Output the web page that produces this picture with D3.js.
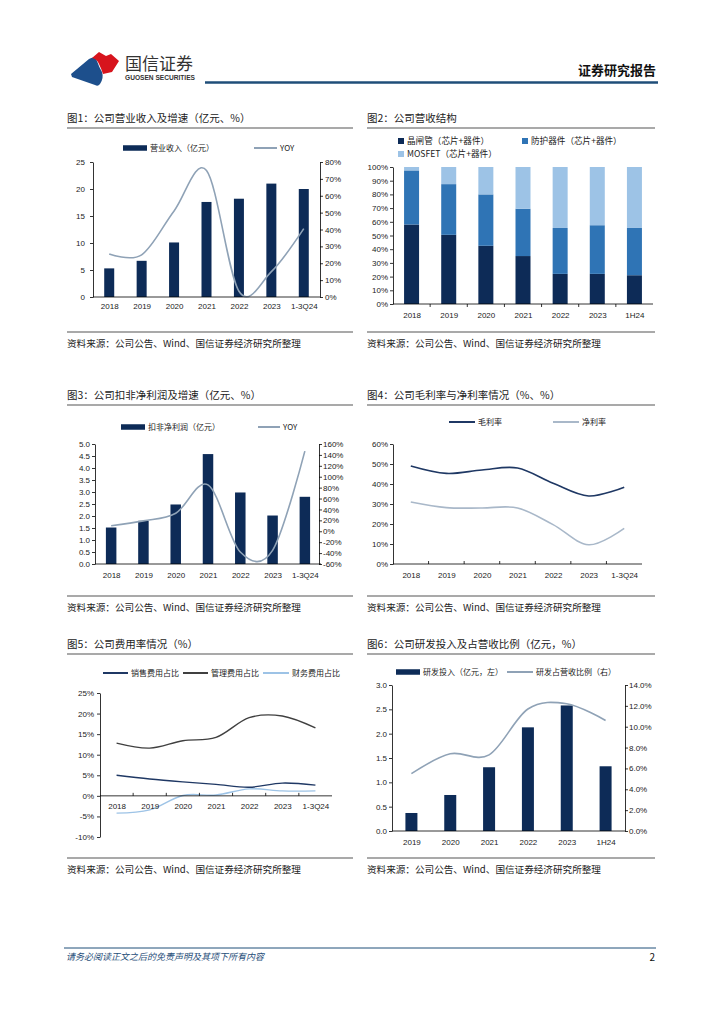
<!DOCTYPE html>
<html lang="zh-CN">
<head>
<meta charset="UTF-8">
<title>国信证券 证券研究报告 第2页</title>
<script src="https://d3js.org/d3.v7.min.js"></script>
<style>
  body { margin: 0; background: #fff; }
  svg { display: block; font-family: "Noto Sans CJK SC", "Noto Sans", sans-serif; }
  .axis path, .axis line { stroke: #000; stroke-width: 0.8; }
  .axis text { font-size: 8px; fill: #222; font-family: "Liberation Sans", Arial, sans-serif; }
</style>
</head>
<body>
<svg id="page" width="724" height="1024"></svg>
<script>
// ---- data ----
const years7 = ['2018', '2019', '2020', '2021', '2022', '2023', '1-3Q24'];
const years7h = ['2018', '2019', '2020', '2021', '2022', '2023', '1H24'];
const years6 = ['2019', '2020', '2021', '2022', '2023', '1H24'];

// 图1
const revenue = [5.3, 6.7, 10.1, 17.6, 18.2, 21.0, 20.0];
const revenueYoy = [25.5, 25, 51, 75, 3.4, 15, 40.5];

// 图2 (%)
const shareThyristor = [58, 50.5, 42.5, 35, 22, 22, 21];
const shareProtect = [39.5, 37, 37.5, 34.5, 33.5, 35.5, 34.5];
const shareMosfet = [2.5, 12.5, 20, 30.5, 44.5, 42.5, 44.5];

// 图3
const deductedProfit = [1.52, 1.8, 2.48, 4.58, 2.98, 2.02, 2.8];
const profitYoy = [10, 19, 33, 85, -38, -35, 147];

// 图4
const grossMargin = [49, 45.3, 47, 48, 40.4, 34, 38.4];
const netMargin = [31, 28.2, 28, 28, 19.7, 9.6, 17.8];

// 图5
const sellingRate = [5.0, 4.1, 3.4, 2.8, 2.1, 3.1, 2.6];
const adminRate = [12.8, 11.6, 13.4, 14.2, 19.0, 19.4, 16.5];
const financeRate = [-4.2, -3.4, 0.1, 0.2, 1.7, 1.2, 1.2];

// 图6
const rdSpend = [0.37, 0.74, 1.31, 2.13, 2.58, 1.33];
const rdRatio = [5.5, 7.4, 7.3, 11.7, 12.2, 10.6];

const NAVY = '#0d2b57';
const MID = '#2f74b5';
const LIGHT = '#9dc3e6';
const GREYBLUE = '#8fa2b6';

const svg = d3.select('#page');

// ---- page header / footer ----
const logo = svg.append('g');
logo.append('path')
    .attr('d', 'M71,74 L89,59 Q95,55 97,61 Q99,67 102,72 Q104,78 100,84 Q98,87 95,85 L72,77 Z')
    .attr('fill', '#1d4f8c');
logo.append('path')
    .attr('d', 'M92,58 L99,52 L106,56 L111,54 L119,61 L112,72 L103,74 Q101,68 99,64 Q97,59 92,58 Z')
    .attr('fill', '#d7141d');
svg.append('text').attr('x', 125).attr('y', 70).text('国信证券')
    .attr('font-size', 17).attr('fill', '#333');
svg.append('text').attr('x', 125).attr('y', 80).text('GUOSEN SECURITIES')
    .attr('font-size', 6.6).attr('font-weight', 'bold').attr('fill', '#333')
    .attr('font-family', 'Liberation Sans, Arial, sans-serif');
svg.append('text').attr('x', 656).attr('y', 75).attr('text-anchor', 'end').text('证券研究报告')
    .attr('font-size', 13).attr('font-weight', 'bold').attr('fill', '#111');
svg.append('line').attr('x1', 205).attr('x2', 658).attr('y1', 82.5).attr('y2', 82.5)
    .attr('stroke', '#1f4e79').attr('stroke-width', 2.5);

svg.append('line').attr('x1', 64).attr('x2', 656).attr('y1', 948).attr('y2', 948)
    .attr('stroke', '#1f4e79').attr('stroke-width', 1);
svg.append('text').attr('x', 66).attr('y', 960).text('请务必阅读正文之后的免责声明及其项下所有内容')
    .attr('font-size', 9).attr('font-style', 'italic').attr('fill', '#1f4e79');
svg.append('text').attr('x', 655).attr('y', 961).attr('text-anchor', 'end').text('2')
    .attr('font-size', 10).attr('fill', '#111');

// ---- helpers ----
function panel(x0, x1, yTitle, title, ySource) {
    svg.append('text').attr('x', x0).attr('y', yTitle + 4).text(title)
        .attr('font-size', 10.5).attr('fill', '#222');
    svg.append('line').attr('x1', x0).attr('x2', x1).attr('y1', yTitle + 10).attr('y2', yTitle + 10)
        .attr('stroke', '#8c8c8c').attr('stroke-width', 1.5);
    svg.append('line').attr('x1', x0).attr('x2', x1).attr('y1', ySource - 11).attr('y2', ySource - 11)
        .attr('stroke', '#8c8c8c').attr('stroke-width', 1.5);
    svg.append('text').attr('x', x0).attr('y', ySource + 4).text('资料来源：公司公告、Wind、国信证券经济研究所整理')
        .attr('font-size', 9.6).attr('fill', '#222');
}

function legendRect(x, y, w, h, color, label, fs) {
    svg.append('rect').attr('x', x).attr('y', y - h / 2).attr('width', w).attr('height', h).attr('fill', color);
    svg.append('text').attr('x', x + w + 3).attr('y', y + 3).text(label).attr('font-size', fs || 8).attr('fill', '#222');
}

function legendLine(x, y, w, color, label) {
    svg.append('line').attr('x1', x).attr('x2', x + w).attr('y1', y).attr('y2', y)
        .attr('stroke', color).attr('stroke-width', 2);
    svg.append('text').attr('x', x + w + 3).attr('y', y + 3).text(label).attr('font-size', 8).attr('fill', '#222');
}

function leftAxis(scale, x, ticks, fmt, pad) {
    svg.append('g').attr('class', 'axis').attr('transform', `translate(${x},0)`)
        .call(d3.axisLeft(scale).tickValues(ticks).tickFormat(fmt).tickSize(3).tickSizeOuter(0).tickPadding(pad));
}

function rightAxis(scale, x, ticks, fmt, pad) {
    svg.append('g').attr('class', 'axis').attr('transform', `translate(${x},0)`)
        .call(d3.axisRight(scale).tickValues(ticks).tickFormat(fmt).tickSize(3).tickSizeOuter(0).tickPadding(pad));
}

function bottomAxis(scale, y, pad) {
    const g = svg.append('g').attr('class', 'axis').attr('transform', `translate(0,${y})`)
        .call(d3.axisBottom(scale).tickSize(0).tickPadding(pad));
    g.select('.domain').attr('d', `M${scale.range()[0]},0H${scale.range()[1]}`);
    return g;
}

function boundaryTicks(scale, y, dir) {
    const cats = scale.domain().slice(1);
    svg.append('g').selectAll('line').data(cats).join('line')
        .attr('x1', d => scale(d) - scale.step() / 2).attr('x2', d => scale(d) - scale.step() / 2)
        .attr('y1', y).attr('y2', y + dir * 3).attr('stroke', '#000').attr('stroke-width', 0.8);
}

function pctFmt(d) { return d + '%'; }

function drawLine(x, y, cats, values, color, width) {
    svg.append('path')
        .datum(values)
        .attr('fill', 'none').attr('stroke', color).attr('stroke-width', width)
        .attr('d', d3.line().x((d, i) => x(cats[i])).y(d => y(d)).curve(d3.curveCardinal));
}

// ---- 图1 ----
(function () {
    panel(67, 353, 118, '图1：公司营业收入及增速（亿元、%）', 343);
    legendRect(123, 148, 24, 5.5, NAVY, '营业收入（亿元）');
    legendLine(254, 148, 23, GREYBLUE, 'YOY');
    const x = d3.scalePoint().domain(years7).range([93, 320]).padding(0.5);
    const yL = d3.scaleLinear().domain([0, 25]).range([297, 162]);
    const yR = d3.scaleLinear().domain([0, 80]).range([297, 162]);
    const bw = 10;
    svg.append('g').selectAll('rect').data(revenue).join('rect')
        .attr('x', (d, i) => x(years7[i]) - bw / 2).attr('width', bw)
        .attr('y', d => yL(d)).attr('height', d => yL(0) - yL(d)).attr('fill', NAVY);
    drawLine(x, yR, years7, revenueYoy, GREYBLUE, 1.6);
    leftAxis(yL, 93, d3.range(0, 26, 5), d3.format('d'), 5);
    rightAxis(yR, 320, d3.range(0, 81, 10), pctFmt, 2);
    bottomAxis(x, 297, 6);
})();

// ---- 图2 ----
(function () {
    panel(367, 655, 118, '图2：公司营收结构', 343);
    legendRect(398, 141, 6, 6, NAVY, '晶闸管（芯片+器件）', 8.6);
    legendRect(522, 141, 6, 6, MID, '防护器件（芯片+器件）', 8.6);
    legendRect(398, 154, 6, 6, LIGHT, 'MOSFET（芯片+器件）', 8.6);
    const x = d3.scalePoint().domain(years7h).range([393, 653]).padding(0.5);
    const y = d3.scaleLinear().domain([0, 100]).range([304, 167]);
    const rows = years7h.map((c, i) => ({ cat: c, a: shareThyristor[i], b: shareProtect[i], c: shareMosfet[i] }));
    const series = d3.stack().keys(['a', 'b', 'c'])(rows);
    const colors = [NAVY, MID, LIGHT];
    const bw = 15;
    svg.append('g').selectAll('g').data(series).join('g').attr('fill', (d, i) => colors[i])
        .selectAll('rect').data(d => d).join('rect')
        .attr('x', d => x(d.data.cat) - bw / 2).attr('width', bw)
        .attr('y', d => y(d[1])).attr('height', d => y(d[0]) - y(d[1]));
    leftAxis(y, 393, d3.range(0, 101, 10), pctFmt, 2);
    bottomAxis(x, 304, 8);
    boundaryTicks(x, 304, 1);
})();

// ---- 图3 ----
(function () {
    panel(67, 353, 395, '图3：公司扣非净利润及增速（亿元、%）', 607);
    legendRect(121, 427, 24, 5.5, NAVY, '扣非净利润（亿元）');
    legendLine(258, 427, 22, GREYBLUE, 'YOY');
    const x = d3.scalePoint().domain(years7).range([95, 321]).padding(0.5);
    const yL = d3.scaleLinear().domain([0, 5]).range([564, 444]);
    const yR = d3.scaleLinear().domain([-60, 160]).range([564, 444]);
    const bw = 10.5;
    svg.append('g').selectAll('rect').data(deductedProfit).join('rect')
        .attr('x', (d, i) => x(years7[i]) - bw / 2).attr('width', bw)
        .attr('y', d => yL(d)).attr('height', d => yL(0) - yL(d)).attr('fill', NAVY);
    drawLine(x, yR, years7, profitYoy, GREYBLUE, 1.6);
    leftAxis(yL, 95, d3.range(0, 5.01, 0.5), d3.format('.1f'), 2);
    rightAxis(yR, 319, d3.range(-60, 161, 20), pctFmt, 1);
    bottomAxis(x, 564, 8);
})();

// ---- 图4 ----
(function () {
    panel(367, 655, 395, '图4：公司毛利率与净利率情况（%、%）', 607);
    legendLine(449, 422, 26, '#1f3864', '毛利率');
    legendLine(553, 422, 26, '#a9b8c9', '净利率');
    const x = d3.scalePoint().domain(years7).range([393, 642]).padding(0.5);
    const y = d3.scaleLinear().domain([0, 60]).range([564, 444]);
    drawLine(x, y, years7, grossMargin, '#1f3864', 1.6);
    drawLine(x, y, years7, netMargin, '#a9b8c9', 1.6);
    leftAxis(y, 393, d3.range(0, 61, 10), pctFmt, 2);
    bottomAxis(x, 564, 8);
    boundaryTicks(x, 564, -1);
})();

// ---- 图5 ----
(function () {
    panel(67, 353, 644, '图5：公司费用率情况（%）', 869);
    legendLine(103, 673, 25, '#1f3864', '销售费用占比');
    legendLine(183, 673, 25, '#404040', '管理费用占比');
    legendLine(263, 673, 26, LIGHT, '财务费用占比');
    const x = d3.scalePoint().domain(years7).range([100, 332]).padding(0.5);
    const y = d3.scaleLinear().domain([-10, 25]).range([837, 693]);
    drawLine(x, y, years7, sellingRate, '#1f3864', 1.4);
    drawLine(x, y, years7, adminRate, '#404040', 1.4);
    drawLine(x, y, years7, financeRate, LIGHT, 1.4);
    leftAxis(y, 100, d3.range(-10, 26, 5), pctFmt, 3);
    bottomAxis(x, y(0), 7);
    boundaryTicks(x, y(0), -1);
})();

// ---- 图6 ----
(function () {
    panel(367, 655, 644, '图6：公司研发投入及占营收比例（亿元，%）', 869);
    legendRect(396, 672, 24, 5.5, NAVY, '研发投入（亿元，左）');
    legendLine(507, 672, 26, GREYBLUE, '研发占营收比例（右）');
    const x = d3.scalePoint().domain(years6).range([392, 625]).padding(0.5);
    const yL = d3.scaleLinear().domain([0, 3]).range([831, 685]);
    const yR = d3.scaleLinear().domain([0, 14]).range([831, 685]);
    const bw = 12;
    svg.append('g').selectAll('rect').data(rdSpend).join('rect')
        .attr('x', (d, i) => x(years6[i]) - bw / 2).attr('width', bw)
        .attr('y', d => yL(d)).attr('height', d => yL(0) - yL(d)).attr('fill', NAVY);
    drawLine(x, yR, years6, rdRatio, GREYBLUE, 1.6);
    leftAxis(yL, 392, d3.range(0, 3.01, 0.5), d3.format('.1f'), 2);
    rightAxis(yR, 625, d3.range(0, 14.01, 2), d => d.toFixed(1) + '%', 1);
    bottomAxis(x, 831, 8);
})();
</script>
</body>
</html>
